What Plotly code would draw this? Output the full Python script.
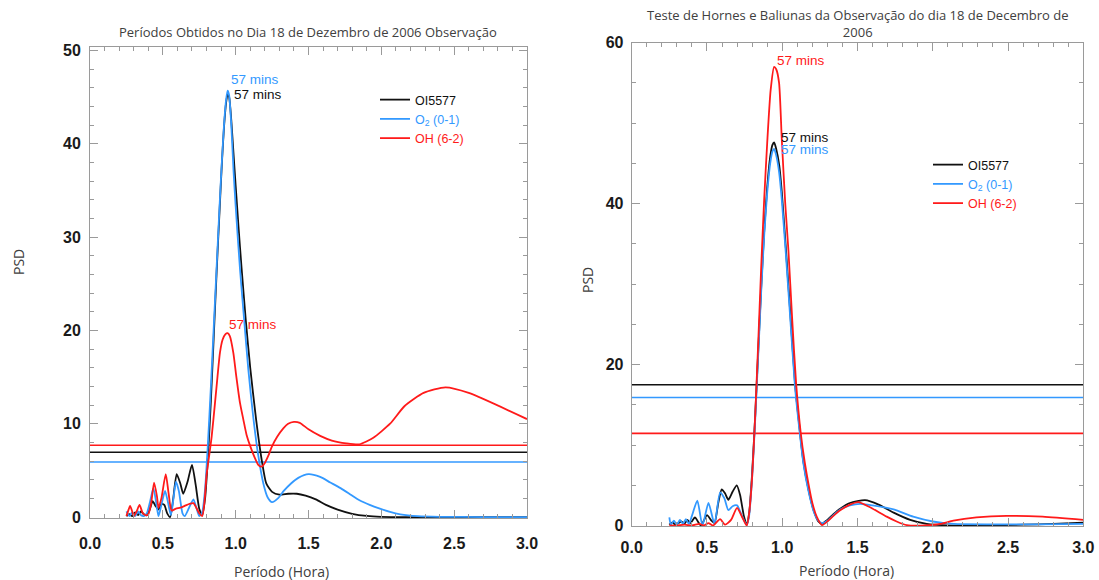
import plotly.graph_objects as go

# ---------------- Left panel data (Períodos Obtidos) ----------------
left_ol_x = [0.25, 0.27, 0.29, 0.31, 0.33, 0.35, 0.37, 0.39, 0.41, 0.43, 0.45, 0.47, 0.49, 0.51, 0.53, 0.55,
             0.57, 0.595, 0.62, 0.64, 0.67, 0.70, 0.725, 0.75, 0.77, 0.79, 0.81, 0.83, 0.85, 0.87, 0.89, 0.905,
             0.92, 0.935, 0.945, 0.955, 0.97, 0.985, 1.00, 1.02, 1.04, 1.07, 1.10, 1.14, 1.18, 1.21, 1.25,
             1.30, 1.36, 1.42, 1.48, 1.55, 1.62, 1.70, 1.80, 1.90, 2.0, 2.2, 2.5, 2.8, 3.0]
left_ol_y = [0.1, 0.3, 0.1, 0.5, 0.2, 0.6, 0.3, 0.2, 0.8, 1.7, 1.2, 0.8, 1.4, 1.3, 0.4, 0.0,
             1.8, 4.6, 3.6, 2.5, 3.8, 5.6, 3.5, 0.9, 0.2, 2.0, 6.5, 12.5, 19.5, 26.5, 33.0, 37.8,
             41.8, 44.5, 45.3, 45.0, 42.5, 39.0, 35.5, 31.0, 26.8, 21.0, 16.0, 10.5, 6.0, 3.6, 2.7,
             2.4, 2.5, 2.5, 2.3, 1.9, 1.3, 0.8, 0.35, 0.12, 0.03, 0.0, 0.0, 0.0, 0.0]

left_o2_x = [0.25, 0.27, 0.29, 0.31, 0.33, 0.35, 0.37, 0.39, 0.41, 0.435, 0.455, 0.47, 0.49, 0.515, 0.535, 0.555,
             0.57, 0.59, 0.61, 0.635, 0.65, 0.68, 0.71, 0.73, 0.75, 0.77, 0.79, 0.81, 0.83, 0.85, 0.87, 0.89,
             0.905, 0.92, 0.935, 0.945, 0.955, 0.97, 0.985, 1.00, 1.03, 1.06, 1.087, 1.12, 1.155, 1.19, 1.22,
             1.25, 1.29, 1.33, 1.38, 1.43, 1.50, 1.58, 1.65, 1.72, 1.79, 1.85, 1.92, 1.99, 2.06, 2.13, 2.25,
             2.4, 2.7, 3.0]
left_o2_y = [0.6, 0.1, 0.5, 0.1, 0.6, 0.2, 0.1, 0.4, 1.5, 3.1, 1.5, 0.1, 1.3, 2.8, 1.6, 0.2,
             1.6, 3.8, 2.8, 0.4, 0.1, 1.0, 1.9, 1.0, 0.1, 0.5, 3.0, 8.0, 14.0, 20.5, 27.0, 33.5,
             38.0, 42.0, 44.8, 45.7, 45.2, 42.0, 37.2, 33.3, 26.5, 20.8, 15.8, 10.8, 6.6, 3.6, 2.1,
             1.6, 2.0, 2.8, 3.6, 4.2, 4.6, 4.3, 3.7, 3.1, 2.4, 1.8, 1.3, 0.9, 0.55, 0.3, 0.1,
             0.03, 0.0, 0.0]

left_oh_x = [0.25, 0.265, 0.275, 0.29, 0.30, 0.32, 0.34, 0.36, 0.38, 0.40, 0.42, 0.44, 0.46, 0.47, 0.49, 0.52,
             0.54, 0.56, 0.59, 0.62, 0.65, 0.68, 0.71, 0.73, 0.75, 0.77, 0.785, 0.80, 0.82, 0.835, 0.858, 0.875,
             0.892, 0.91, 0.93, 0.945, 0.96, 0.984, 1.005, 1.03, 1.052, 1.075, 1.10, 1.13, 1.155, 1.178, 1.20,
             1.225, 1.247, 1.285, 1.327, 1.36, 1.40, 1.44, 1.50, 1.58, 1.66, 1.76, 1.85, 1.945, 2.06, 2.16,
             2.29, 2.44, 2.60, 3.0]
left_oh_y = [0.1, 0.8, 1.2, 0.6, 0.1, 0.6, 1.3, 0.5, 0.2, 0.3, 1.5, 3.7, 2.2, 1.0, 2.0, 4.6,
             2.5, 0.7, 0.9, 1.0, 1.2, 1.4, 1.5, 1.0, 0.4, 0.1, 1.5, 4.5, 6.8, 8.6, 12.2, 15.0,
             17.6, 19.0, 19.6, 19.7, 19.4, 17.6, 15.0, 12.2, 10.5, 8.8, 7.6, 6.4, 5.6, 5.4, 5.8,
             6.6, 7.5, 8.6, 9.5, 10.0, 10.2, 10.1, 9.4, 8.7, 8.2, 7.9, 7.8, 8.5, 10.0, 11.9,
             13.3, 13.9, 13.3, 10.5]

left_levels = [6.95, 5.9, 7.7]          # OI5577, O2, OH significance levels

# ---------------- Right panel data (Hornes e Baliunas) ----------------
right_ol_x = [0.25, 0.27, 0.29, 0.31, 0.33, 0.35, 0.37, 0.39, 0.42, 0.46, 0.50, 0.53, 0.55, 0.575, 0.598, 0.62,
              0.642, 0.67, 0.698, 0.72, 0.745, 0.764, 0.78, 0.80, 0.82, 0.84, 0.86, 0.88, 0.90, 0.92, 0.935,
              0.946, 0.96, 0.98, 0.997, 1.025, 1.055, 1.085, 1.11, 1.14, 1.174, 1.21, 1.24, 1.264, 1.30, 1.34,
              1.385, 1.45, 1.55, 1.64, 1.74, 1.85, 1.96, 2.1, 2.3, 2.6, 2.8, 3.0]
right_ol_y = [0.1, 0.4, 0.1, 0.3, 0.5, 0.2, 0.7, 0.3, 1.0, 0.0, 1.3, 0.6, 0.3, 2.8, 4.5, 4.0,
              3.2, 4.2, 5.0, 3.8, 1.2, 0.1, 1.5, 6.5, 13.5, 21.5, 29.5, 36.5, 42.0, 45.8, 47.3,
              47.6, 46.8, 44.8, 41.5, 34.2, 26.0, 17.7, 13.0, 8.0, 4.5, 1.8, 0.5, 0.2, 0.7, 1.4,
              2.1, 2.8, 3.15, 2.6, 1.6, 0.7, 0.2, 0.02, 0.0, 0.1, 0.2, 0.35]

right_o2_x = [0.25, 0.26, 0.28, 0.30, 0.32, 0.34, 0.36, 0.38, 0.40, 0.436, 0.47, 0.51, 0.55, 0.587, 0.615, 0.642,
              0.67, 0.70, 0.73, 0.764, 0.78, 0.80, 0.82, 0.84, 0.86, 0.88, 0.90, 0.92, 0.935, 0.946, 0.96,
              0.98, 0.997, 1.025, 1.055, 1.085, 1.11, 1.14, 1.174, 1.21, 1.24, 1.264, 1.30, 1.34, 1.385, 1.45,
              1.517, 1.60, 1.74, 1.87, 2.0, 2.14, 2.4, 2.7, 3.0]
right_o2_y = [1.0, 0.1, 0.6, 0.1, 0.7, 0.2, 0.8, 0.2, 1.2, 3.1, 0.0, 2.8, 0.2, 4.1, 3.4, 1.9,
              2.4, 2.5, 1.3, 0.05, 1.2, 6.0, 13.0, 21.0, 29.0, 36.0, 41.3, 45.0, 46.5, 46.8, 46.0,
              43.8, 40.5, 33.5, 25.3, 17.2, 12.6, 7.8, 4.3, 1.7, 0.6, 0.3, 0.6, 1.3, 2.0, 2.5,
              2.7, 2.5, 2.0, 1.1, 0.5, 0.2, 0.15, 0.15, 0.2]

right_oh_x = [0.25, 0.30, 0.35, 0.40, 0.45, 0.48, 0.51, 0.54, 0.587, 0.62, 0.66, 0.70, 0.735, 0.764, 0.78, 0.80,
              0.82, 0.84, 0.86, 0.88, 0.90, 0.923, 0.946, 0.96, 0.979, 0.997, 1.02, 1.041, 1.065, 1.092, 1.123,
              1.15, 1.174, 1.20, 1.229, 1.264, 1.30, 1.34, 1.385, 1.45, 1.506, 1.58, 1.694, 1.76, 1.827, 1.95,
              2.05, 2.137, 2.29, 2.49, 2.73, 3.0]
right_oh_y = [0.0, 0.0, 0.1, 0.0, 0.2, 0.0, 0.3, 0.0, 0.8, 0.1, 0.7, 2.2, 1.0, 0.0, 1.5, 6.0,
              13.5, 22.5, 32.0, 40.5, 47.5, 54.1, 57.0, 56.7, 55.0, 48.0, 40.0, 34.2, 26.0, 17.7, 11.5,
              7.8, 5.2, 2.8, 1.1, 0.05, 0.5, 1.2, 1.9, 2.6, 2.9, 2.3, 1.1, 0.5, 0.05, 0.0,
              0.2, 0.6, 1.0, 1.2, 1.1, 0.7]

right_levels = [17.5, 15.9, 11.45]      # OI5577, O2, OH significance levels

series_names = ["OI5577", "O<sub>2</sub> (0-1)", "OH (6-2)"]
series_colors = ["#111111", "#3399ff", "#ff1a1a"]
x_tick_labels = ["0.0", "0.5", "1.0", "1.5", "2.0", "2.5", "3.0"]
peak_label = "57 mins"

W, H = 1099, 580


def fx(p):
    return p / W


def fy(p):
    return 1 - p / H


fig = go.Figure()

left_series = [(left_ol_x, left_ol_y), (left_o2_x, left_o2_y), (left_oh_x, left_oh_y)]
right_series = [(right_ol_x, right_ol_y), (right_o2_x, right_o2_y), (right_oh_x, right_oh_y)]

for series, levels, xa, ya, lg in [(left_series, left_levels, "x", "y", "legend"),
                                   (right_series, right_levels, "x2", "y2", "legend2")]:
    for i, lvl in enumerate(levels):
        fig.add_trace(go.Scatter(x=[0, 3], y=[lvl, lvl], mode="lines", xaxis=xa, yaxis=ya,
                                 line=dict(color=series_colors[i], width=1.6), showlegend=False,
                                 hoverinfo="skip"))
    for i, (xs, ys) in enumerate(series):
        fig.add_trace(go.Scatter(
            x=xs, y=ys, mode="lines", xaxis=xa, yaxis=ya, legend=lg,
            name=f"<span style='color:{series_colors[i]}'>{series_names[i]}</span>",
            line=dict(color=series_colors[i], width=1.8, shape="spline", smoothing=0.6)))


def peak(xs, ys):
    k = max(range(len(ys)), key=lambda j: ys[j])
    return xs[k], ys[k]


ann_font = dict(family="Liberation Sans", size=13.5)
label_offsets = {
    ("x", 0): (4, 0), ("x", 1): (1, 11), ("x", 2): (-1, 9),
    ("x2", 0): (5, 5), ("x2", 1): (5, -1), ("x2", 2): (1, 6),
}
for xa, ya, series in [("x", "y", left_series), ("x2", "y2", right_series)]:
    for i, (xs, ys) in enumerate(series):
        px, py = peak(xs, ys)
        dx, dy = label_offsets[(xa, i)]
        fig.add_annotation(x=px, y=py, xref=xa, yref=ya, text=peak_label, showarrow=False,
                           xanchor="left", yanchor="middle", xshift=dx, yshift=dy,
                           font=dict(color=series_colors[i], **ann_font))

tick_col = "#9a9a9a"
axis_common = dict(showline=True, linecolor=tick_col, linewidth=1, mirror="ticks",
                   ticks="inside", ticklen=8, tickcolor=tick_col, tickwidth=1,
                   showgrid=False, zeroline=False, automargin=False,
                   tickfont=dict(family="Liberation Sans", size=16, color="#1a1a1a", weight="bold"))
xtick_vals = [float(t) for t in x_tick_labels]

legend_common = dict(xanchor="left", yanchor="top", bgcolor="rgba(0,0,0,0)",
                     font=dict(family="Liberation Sans", size=12.5), tracegroupgap=0)

fig.update_layout(
    template="none",
    width=W, height=H, margin=dict(l=0, r=0, t=0, b=0, autoexpand=False),
    paper_bgcolor="white", plot_bgcolor="white",
    xaxis=dict(domain=[fx(90), fx(527)], range=[0, 3], tickvals=xtick_vals, ticktext=x_tick_labels,
               ticklabelstandoff=11, minor=dict(dtick=0.1, ticklen=4, ticks="inside", tickcolor=tick_col),
               anchor="y", **axis_common),
    yaxis=dict(domain=[fy(518), fy(46.7)], range=[-0.1, 50.4], dtick=10, tick0=0,
               ticklabelstandoff=5, minor=dict(dtick=2, ticklen=4, ticks="inside", tickcolor=tick_col),
               anchor="x", **axis_common),
    xaxis2=dict(domain=[fx(631.7), fx(1083.3)], range=[0, 3], tickvals=xtick_vals, ticktext=x_tick_labels,
                ticklabelstandoff=7, minor=dict(dtick=0.1, ticklen=4, ticks="inside", tickcolor=tick_col),
                anchor="y2", **axis_common),
    yaxis2=dict(domain=[fy(526), fy(42.7)], range=[-0.06, 60], dtick=20, tick0=0,
                ticklabelstandoff=4, minor=dict(dtick=5, ticklen=4, ticks="inside", tickcolor=tick_col),
                anchor="x2", **axis_common),
    legend=dict(x=fx(375), y=fy(85), **legend_common),
    legend2=dict(x=fx(928), y=fy(150), **legend_common),
    showlegend=True,
)

title_font = dict(family="Open Sans", size=13, color="#404040")
axis_title_font = dict(family="Open Sans", size=14, color="#404040")
text_items = [
    (308, 32, "Períodos Obtidos no Dia 18 de Dezembro de 2006 Observação", title_font, 0),
    (857, 23.5, "Teste de Hornes e Baliunas da Observação do dia 18 de Decembro de<br>2006", title_font, 0),
    (281, 571, "Período (Hora)", axis_title_font, 0),
    (846, 570, "Período (Hora)", axis_title_font, 0),
    (18, 262, "PSD", axis_title_font, -90),
    (587, 280, "PSD", axis_title_font, -90),
]
for px_, py_, txt, fnt, ang in text_items:
    fig.add_annotation(x=fx(px_), y=fy(py_), xref="paper", yref="paper", showarrow=False,
                       xanchor="center", yanchor="middle", text=txt, textangle=ang, font=fnt)

fig.write_html("out.html", config={"displayModeBar": False},
               post_script="document.body.style.margin='0px';")
